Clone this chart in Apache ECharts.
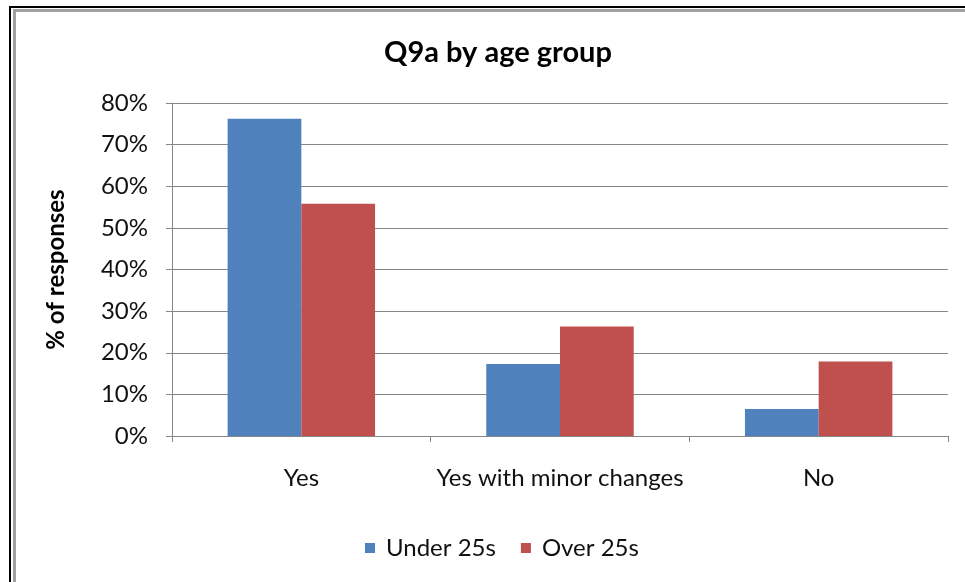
<!DOCTYPE html>
<html>
<head>
<meta charset="utf-8">
<script src="https://cdn.jsdelivr.net/npm/echarts@6/dist/echarts.min.js"></script>
<style>
  html, body { margin: 0; padding: 0; background: #fff; }
  #chart { width: 965px; height: 582px; }
</style>
</head>
<body>
<div id="chart"></div>
<script>
const categories = ['Yes', 'Yes with minor changes', 'No']
const under25 = [76.2, 17.3, 6.5]
const over25 = [55.8, 26.3, 17.9]
const seriesNames = ['Under 25s', 'Over 25s']

const font = 'Lato, "Liberation Sans", sans-serif'
const axisGray = '#868686'

const chart = echarts.init(document.getElementById('chart'))

const option = {
    backgroundColor: '#fff',
    animation: false,
    textStyle: { fontFamily: font, color: '#000' },
    title: {
        text: 'Q9a by age group',
        left: 493,
        top: 33,
        textAlign: 'center',
        textStyle: { fontFamily: font, fontSize: 29, fontWeight: 'bold', color: '#000' }
    },
    legend: {
        data: seriesNames,
        top: 531,
        left: 360,
        itemWidth: 10,
        itemHeight: 10,
        itemGap: 25,
        icon: 'rect',
        textStyle: { fontFamily: font, fontSize: 24, color: '#111', padding: [0, 0, 0, 6] }
    },
    grid: { left: 172, right: 17, top: 103, bottom: 146, containLabel: false },
    xAxis: {
        type: 'category',
        data: categories,
        axisLine: { lineStyle: { color: axisGray, width: 1 } },
        axisTick: { show: true, length: 6, alignWithLabel: false, lineStyle: { color: axisGray } },
        axisLabel: { interval: 0, fontFamily: font, fontSize: 24, color: '#111', margin: 30 }
    },
    yAxis: {
        type: 'value',
        min: 0,
        max: 80,
        interval: 10,
        name: '% of responses',
        nameLocation: 'middle',
        nameGap: 104,
        nameTextStyle: { fontFamily: font, fontSize: 24, fontWeight: 'bold', color: '#000' },
        axisLine: { show: true, lineStyle: { color: axisGray } },
        axisTick: { show: true, length: 6, lineStyle: { color: axisGray } },
        axisLabel: { fontFamily: font, fontSize: 24, color: '#111', margin: 24, formatter: '{value}%' },
        splitLine: { show: true, lineStyle: { color: axisGray, width: 1 } }
    },
    series: [
        {
            name: seriesNames[0],
            type: 'bar',
            data: under25,
            barGap: '0%',
            barCategoryGap: '43%',
            itemStyle: { color: '#4F81BD' }
        },
        {
            name: seriesNames[1],
            type: 'bar',
            data: over25,
            itemStyle: { color: '#C0504D' }
        }
    ],
    graphic: [
        {
            type: 'rect',
            shape: { x: 10, y: 7, width: 1000, height: 700 },
            style: { fill: 'none', stroke: '#000', lineWidth: 2 },
            silent: true
        },
        {
            type: 'rect',
            shape: { x: 14.5, y: 10.5, width: 1000, height: 700 },
            style: { fill: 'none', stroke: '#a0a0a0', lineWidth: 3 },
            silent: true
        }
    ]
}

chart.setOption(option)
</script>
</body>
</html>
